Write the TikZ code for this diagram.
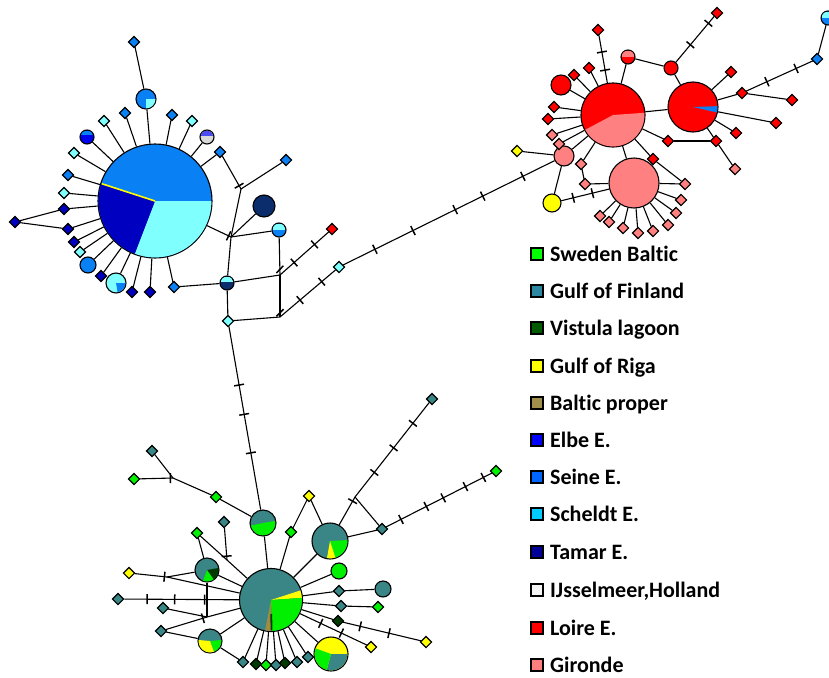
\documentclass[tikz,border=0pt]{standalone}
\usepackage{fontspec}
\setmainfont[Ligatures=NoCommon]{Carlito}
\usetikzlibrary{shapes.geometric}

% haplotype colours (network)
\definecolor{seine}{HTML}{0A80F5}
\definecolor{scheldt}{HTML}{80FFFF}
\definecolor{tamar}{HTML}{0000C0}
\definecolor{navy}{HTML}{0B2D6B}
\definecolor{elbe}{HTML}{0000F0}
\definecolor{ijssel}{HTML}{D9D9D9}
\definecolor{loire}{HTML}{FF0000}
\definecolor{gironde}{HTML}{FF8080}
\definecolor{riga}{HTML}{FFFF00}
\definecolor{gulf}{HTML}{3A8585}
\definecolor{sweden}{HTML}{00F000}
\definecolor{vistula}{HTML}{003A00}
\definecolor{baltic}{HTML}{A08C40}
% legend colours
\definecolor{kSweden}{HTML}{00FF00}
\definecolor{kGulf}{HTML}{2B88A0}
\definecolor{kVistula}{HTML}{005A00}
\definecolor{kRiga}{HTML}{FFFF00}
\definecolor{kBaltic}{HTML}{A0904C}
\definecolor{kElbe}{HTML}{0000FF}
\definecolor{kSeine}{HTML}{0066FF}
\definecolor{kScheldt}{HTML}{00CCFF}
\definecolor{kTamar}{HTML}{000099}
\definecolor{kIjssel}{HTML}{F5F5F5}
\definecolor{kLoire}{HTML}{FF0000}
\definecolor{kGironde}{HTML}{FF7F7F}

\tikzset{
  hap/.style={shape=diamond, draw=black, fill=#1, inner sep=0pt, minimum size=11.5pt},
  blob/.style={shape=circle, draw=black, fill=#1, inner sep=0pt},
  mut/.style={sloped, draw=black, line width=1.5pt, shape=rectangle, inner sep=0pt, minimum width=0pt, minimum height=10pt},
  key/.style={shape=rectangle, draw=black, fill=#1, inner sep=0pt, minimum size=12pt},
  keytext/.style={anchor=base west, inner sep=0pt, font=\fontsize{22}{26}\selectfont\bfseries}
}

% node, radius, start, end, colour
\newcommand\pieslice[5]{\fill[#5] (#1.center) -- ++(#3:#2) arc[start angle=#3, end angle=#4, radius=#2] -- cycle;}
% node, radius, depth below centre, colour
\newcommand\topband[4]{%
  \begin{scope}
    \clip (#1.center) circle (#2);
    \fill[#4] ([shift={(-#2,-#2)}]#1.center) rectangle ([shift={(#2,#3)}]#1.center);
  \end{scope}}

\begin{document}
\begin{tikzpicture}[x=1pt, y=-1pt, line width=1.1pt]
\useasboundingbox (0,0) rectangle (829,677);

% west group
\node[blob=seine, minimum size=114pt] (tl) at (155,201) {};
\pieslice{tl}{56.4}{0}{111}{scheldt}
\pieslice{tl}{56.4}{111}{198}{tamar}
\draw[riga, line width=1.6pt] (tl.center) -- ++(198:56);

\node[hap=seine] (a1) at (134,42) {};
\node[blob=seine, minimum size=20pt] (a2) at (146,99) {};
\pieslice{a2}{9.4}{0}{90}{scheldt}
\node[hap=seine] (a3) at (125,113) {};
\node[hap=seine] (a4) at (172,115) {};
\node[hap=scheldt] (a5) at (104,121) {};
\node[hap=scheldt] (a6) at (192,121) {};
\node[blob=elbe, minimum size=14pt] (a7) at (87,137) {};
\topband{a7}{6.4}{-2}{seine}
\node[blob=ijssel, minimum size=14pt] (a8) at (207,137) {};
\topband{a8}{6.4}{-1}{elbe!70!white}
\node[hap=scheldt] (a9) at (74,153) {};
\node[hap=seine] (a10) at (220,152) {};
\node[hap=seine] (a11) at (68,175) {};
\node[hap=scheldt] (a12) at (64,193) {};
\node[hap=tamar] (a13) at (64,209) {};
\node[hap=tamar] (a14) at (15,222) {};
\node[hap=tamar] (a15) at (68,229) {};
\node[hap=tamar] (a16) at (74,242) {};
\node[hap=scheldt] (a17) at (80,252) {};
\node[blob=seine, minimum size=16pt] (a18) at (88,265) {};
\node[hap=tamar] (a19) at (101,276) {};
\node[blob=scheldt, minimum size=20pt] (a20) at (116,283) {};
\pieslice{a20}{9.4}{0}{80}{seine}
\node[hap=tamar] (a21) at (132,292) {};
\node[hap=tamar] (a22) at (150,292) {};
\node[hap=seine] (a23) at (174,287) {};
\node[hap=seine] (a24) at (286,160) {};
\node[blob=navy, minimum size=22pt] (b1) at (264,206) {};
\node[blob=seine, minimum size=14pt] (b2) at (279,230) {};
\topband{b2}{6.4}{0}{scheldt}
\node[blob=navy, minimum size=14pt] (b3) at (227,283) {};
\topband{b3}{6.4}{-1}{scheldt}
\node[hap=scheldt] (b4) at (228,321) {};
\node[hap=scheldt] (b5) at (339,267) {};
\node[hap=loire] (b6) at (332,229) {};
\coordinate (j1) at (241,189);
\coordinate (j2) at (231,237);
\coordinate (j3) at (280,275);
\coordinate (j4) at (280,317);

\path (a1) edge (a2);
\path (tl) edge (a2) edge (a3) edge (a4) edge (a5) edge (a6) edge (a7) edge (a8) edge (a9) edge (a10) edge (a11) edge (a12) edge (a13);
\path (tl) edge (a15) edge (a16) edge (a17) edge (a18) edge (a19) edge (a20) edge (a21) edge (a22) edge (a23);
\path (a14) edge (a13);
\path (a14) edge (a15);
\path (a10) edge node[mut, pos=.9] {} (j1);
\path (a24) edge (j1);
\path (j1) edge (j2);
\path (tl) edge node[mut, pos=.9] {} (j2);
\path (b1) edge (j2);
\path (b2) edge (j2);
\path (j2) edge (b3);
\path (b2) edge node[mut, rotate=45, pos=.85] {} (j3);
\path (b3) edge (j3);
\path (j3) edge node[mut, pos=.29] {} node[mut, pos=.71] {} (b6);
\path (j3) edge node[mut, rotate=45, pos=.9] {} (j4);
\path (b3) edge (a23);
\path (b3) edge (b4);
\path (b4) edge (j4);
\path (j4) edge node[mut, pos=.36] {} node[mut, pos=.75] {} (b5);

% east group
\node[blob=loire, minimum size=64pt] (ra) at (613,115) {};
\pieslice{ra}{31.4}{-4}{152}{gironde}
\node[blob=loire, minimum size=50pt] (rb) at (693,107) {};
\pieslice{rb}{24.4}{-2}{13}{seine}
\node[blob=gironde, minimum size=50pt] (rc) at (634,183) {};
\node[blob=gironde, minimum size=20pt] (rd) at (564,156) {};
\node[blob=riga, minimum size=18pt] (re) at (552,203) {};
\node[blob=loire, minimum size=20pt] (rf) at (561,85) {};
\node[hap=riga] (c1) at (517,151) {};
\node[hap=loire] (c2) at (574,75) {};
\node[hap=loire] (c3) at (589,68) {};
\node[hap=loire] (c4) at (554,107) {};
\node[hap=loire] (c5) at (548,119) {};
\node[hap=gironde] (c6) at (552,135) {};
\node[hap=gironde] (c7) at (559,144) {};
\node[hap=gironde] (c8) at (581,164) {};
\node[hap=gironde] (c9) at (585,184) {};
\node[hap=gironde] (d1) at (685,184) {};
\node[hap=gironde] (d2) at (681,200) {};
\node[hap=gironde] (d3) at (676,213) {};
\node[hap=gironde] (d4) at (668,225) {};
\node[hap=gironde] (d5) at (653,231) {};
\node[hap=gironde] (d6) at (638,233) {};
\node[hap=gironde] (d7) at (623,228) {};
\node[hap=gironde] (d8) at (609,222) {};
\node[hap=gironde] (d9) at (600,216) {};
\node[hap=loire] (e1) at (653,159) {};
\node[hap=loire] (e2) at (668,141) {};
\node[hap=loire] (e3) at (716,141) {};
\node[hap=gironde] (e4) at (735,169) {};
\node[hap=loire] (e5) at (598,30) {};
\node[blob=loire, minimum size=14pt] (e6) at (628,57) {};
\topband{e6}{6.4}{0}{gironde}
\node[blob=loire, minimum size=14pt] (e7) at (671,68) {};
\node[hap=loire] (e8) at (717,13) {};
\node[hap=loire] (e9) at (731,72) {};
\node[hap=loire] (e10) at (742,93) {};
\node[hap=loire] (e11) at (792,100) {};
\node[hap=seine] (e12) at (817,59) {};
\node[blob=seine, minimum size=14pt] (e13) at (828,18) {};
\topband{e13}{6.4}{0}{scheldt}
\node[hap=loire] (e14) at (776,123) {};
\node[hap=loire] (e15) at (736,133) {};

\path (ra) edge (rb) edge (rc) edge (rf) edge (c2) edge (c3) edge (c4) edge (c5) edge (c6) edge (c7) edge (c8) edge (rd) edge (e1) edge (e2) edge (e6);
\path (c8) edge (c9);
\path (c9) edge (rc);
\path (rd) edge (c1);
\path (rd) edge (re);
\path (re) edge node[mut, pos=.25] {} node[mut, pos=.65] {} (rc);
\path (e1) edge (d1);
\path (rc) edge (d1) edge (d2) edge (d3) edge (d4) edge (d5) edge (d6) edge (d7) edge (d8) edge (d9);
\path (e2) edge (e3);
\path (e3) edge (rb);
\path (e3) edge (e4);
\path (e5) edge node[mut, pos=.35] {} node[mut, pos=.73] {} (ra);
\path (e6) edge (e7);
\path (e7) edge (rb);
\path (e7) edge node[mut, pos=.38] {} node[mut, pos=.85] {} (e8);
\path (rb) edge (e9) edge (e10) edge (e14) edge (e15);
\path (e10) edge (e11);
\path (e10) edge node[mut, pos=.31] {} node[mut, pos=.75] {} (e12);
\path (e12) edge (e13);
\path (b5) edge node[mut, pos=.15] {} node[mut, pos=.33] {} node[mut, pos=.53] {} node[mut, pos=.66] {} node[mut, pos=.85] {} (rd);

% south group
\node[blob=gulf, minimum size=63pt] (bs) at (271,600) {};
\pieslice{bs}{30.9}{-18}{-4}{riga}
\pieslice{bs}{30.9}{-4}{88}{sweden}
\pieslice{bs}{30.9}{89}{101}{baltic}
\draw[vistula, line width=1.8pt] ([shift={(89:14)}]bs.center) -- ([shift={(89:30.3)}]bs.center);
\node[blob=gulf, minimum size=26pt] (bh) at (263,523) {};
\pieslice{bh}{12.4}{-10}{168}{sweden}
\node[blob=gulf, minimum size=36pt] (bi) at (330,541) {};
\pieslice{bi}{17.4}{-3}{72}{sweden}
\pieslice{bi}{17.4}{72}{100}{riga}
\node[blob=riga, minimum size=34pt] (bj) at (331,654) {};
\pieslice{bj}{16.4}{0}{105}{gulf}
\pieslice{bj}{16.4}{105}{200}{sweden}
\node[blob=gulf, minimum size=24pt] (bk) at (210,641) {};
\pieslice{bk}{11.4}{-5}{70}{sweden}
\pieslice{bk}{11.4}{70}{185}{riga}
\node[blob=gulf, minimum size=24pt] (bl) at (207,570) {};
\pieslice{bl}{11.4}{-10}{55}{vistula}
\pieslice{bl}{11.4}{55}{110}{sweden}
\node[blob=sweden, minimum size=16pt] (f1) at (339,571) {};
\node[blob=gulf, minimum size=16pt] (f2) at (383,589) {};
\node[hap=gulf] (f3) at (339,591) {};
\node[hap=gulf] (f4) at (341,606) {};
\node[hap=sweden] (f5) at (378,607) {};
\node[hap=vistula] (f6) at (338,621) {};
\node[hap=riga] (f7) at (426,642) {};
\node[hap=riga] (f8) at (371,647) {};
\node[hap=gulf] (g1) at (243,662) {};
\node[hap=vistula] (g2) at (256,664) {};
\node[hap=sweden] (g3) at (266,665) {};
\node[hap=gulf] (g4) at (276,665) {};
\node[hap=vistula] (g5) at (285,663) {};
\node[hap=gulf] (g6) at (297,662) {};
\node[hap=gulf] (g7) at (308,657) {};
\node[hap=sweden] (h1) at (197,533) {};
\node[hap=gulf] (h2) at (224,522) {};
\node[hap=riga] (h3) at (129,573) {};
\node[hap=gulf] (h4) at (118,599) {};
\node[hap=gulf] (h5) at (163,608) {};
\node[hap=gulf] (h6) at (161,631) {};
\node[hap=gulf] (h7) at (152,451) {};
\node[hap=sweden] (h8) at (134,479) {};
\node[hap=sweden] (h9) at (216,497) {};
\node[hap=riga] (h10) at (309,496) {};
\node[hap=sweden] (h11) at (291,532) {};
\node[hap=gulf] (h12) at (432,399) {};
\node[hap=gulf] (h13) at (382,529) {};
\node[hap=sweden] (h14) at (496,471) {};
\coordinate (j5) at (227,560);
\coordinate (j6) at (167,577);
\coordinate (j8) at (207,617);
\coordinate (j9) at (173,478);
\coordinate (j10) at (355,497);

\path (b4) edge node[mut, pos=.32] {} node[mut, pos=.48] {} node[mut, pos=.69] {} (bh);
\path (bh) edge (bs);
\path (h9) edge (bh);
\path (h7) edge (j9);
\path (h8) edge node[mut, pos=.92] {} (j9);
\path (j9) edge (h9);
\path (h1) edge (bl);
\path (h1) edge (j5);
\path (j5) edge (bs);
\path (h2) edge node[mut, pos=.88] {} (j5);
\path (h3) edge node[mut, pos=.92] {} (j6);
\path (j6) edge (bl);
\path (j6) edge (bs);
\path (h4) edge node[mut, pos=.2] {} node[mut, pos=.44] {} node[mut, pos=.7] {} (bs);
\path (bl) edge (j8);
\path (h5) edge (j8);
\path (h6) edge node[mut, pos=.9] {} (j8);
\path (j8) edge (bs);
\path (h6) edge (bk);
\path (bk) edge (bs);
\path (bk) edge (g1);
\path (bs) edge (g1) edge (g2) edge (g3) edge (g4) edge (g5) edge (g6) edge (g7) edge (bj) edge (f1) edge (f3) edge (f4) edge (f6) edge (bi) edge (h11) edge (bl);
\path (bs) edge node[mut, pos=.31] {} node[mut, pos=.62] {} (f8);
\path (f6) edge node[mut, pos=.22] {} node[mut, pos=.59] {} (f7);
\path (f4) edge (f5);
\path (f3) edge (f2);
\path (bi) edge (h10);
\path (h10) edge (h11);
\path (bi) edge node[mut, pos=.85] {} (j10);
\path (j10) edge node[mut, pos=.26] {} node[mut, pos=.52] {} node[mut, pos=.78] {} (h12);
\path (j10) edge (h13);
\path (bi) edge (h13);
\path (h13) edge node[mut, pos=.14] {} node[mut, pos=.38] {} node[mut, pos=.54] {} node[mut, pos=.75] {} node[mut, pos=.92] {} (h14);

% legend
\node[key=kSweden] (k1) at (537,254) {};
\node[keytext] (t1) at ([xshift=6pt, yshift=-7pt]k1.east) {Sweden Baltic};
\node[key=kGulf] (k2) at (537,291) {};
\node[keytext] (t2) at ([xshift=6pt, yshift=-7pt]k2.east) {Gulf of Finland};
\node[key=kVistula] (k3) at (537,328) {};
\node[keytext] (t3) at ([xshift=6pt, yshift=-7pt]k3.east) {Vistula lagoon};
\node[key=kRiga] (k4) at (537,366) {};
\node[keytext] (t4) at ([xshift=6pt, yshift=-7pt]k4.east) {Gulf of Riga};
\node[key=kBaltic] (k5) at (537,403) {};
\node[keytext] (t5) at ([xshift=6pt, yshift=-7pt]k5.east) {Baltic proper};
\node[key=kElbe] (k6) at (537,440) {};
\node[keytext] (t6) at ([xshift=6pt, yshift=-7pt]k6.east) {Elbe E.};
\node[key=kSeine] (k7) at (537,477) {};
\node[keytext] (t7) at ([xshift=6pt, yshift=-7pt]k7.east) {Seine E.};
\node[key=kScheldt] (k8) at (537,514) {};
\node[keytext] (t8) at ([xshift=6pt, yshift=-7pt]k8.east) {Scheldt E.};
\node[key=kTamar] (k9) at (537,552) {};
\node[keytext] (t9) at ([xshift=6pt, yshift=-7pt]k9.east) {Tamar E.};
\node[key=kIjssel] (k10) at (537,590) {};
\node[keytext] (t10) at ([xshift=6pt, yshift=-7pt]k10.east) {IJsselmeer,Holland};
\node[key=kLoire] (k11) at (537,628) {};
\node[keytext] (t11) at ([xshift=6pt, yshift=-7pt]k11.east) {Loire E.};
\node[key=kGironde] (k12) at (537,665) {};
\node[keytext] (t12) at ([xshift=6pt, yshift=-7pt]k12.east) {Gironde};
\end{tikzpicture}
\end{document}
